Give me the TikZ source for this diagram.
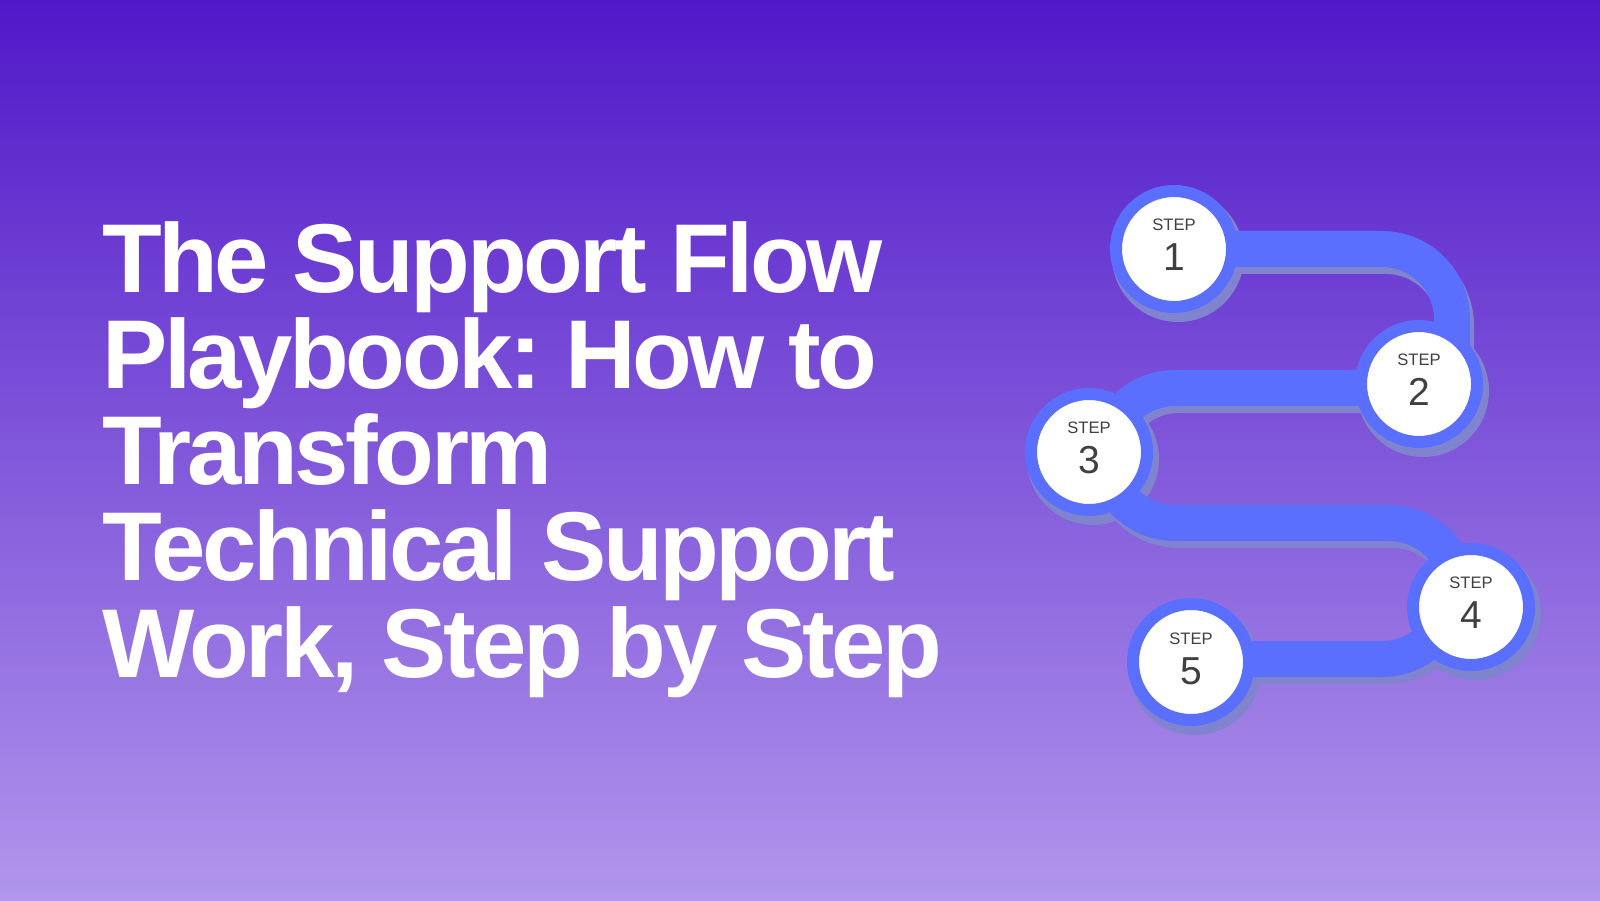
\documentclass[tikz,border=0pt]{standalone}
\usepackage{fontspec}
\setmainfont{Liberation Sans}
\newfontfamily\headfont[LetterSpace=-3.6]{Liberation Sans}
\frenchspacing

\definecolor{bgtop}{HTML}{5018C8}
\definecolor{bgbottom}{HTML}{B196EC}
\definecolor{bandblue}{HTML}{5B6FFF}
\definecolor{bandshadow}{HTML}{8084CE}
\definecolor{steptext}{HTML}{404040}

\tikzset{
  band/.style={draw=bandblue, line width=18pt, rounded corners=35pt},
  stepdot/.style={circle, draw=bandblue, line width=6pt, fill=white, minimum size=58pt, inner sep=0pt},
  steptag/.style={anchor=base, inner sep=0pt, text=steptext, font=\fontsize{8.3}{10}\selectfont},
  stepnum/.style={anchor=base, inner sep=0pt, text=steptext, font=\fontsize{19.5}{22}\selectfont},
  headline/.style={anchor=base west, inner sep=0pt, text=white, font=\fontsize{48.9}{50}\selectfont\headfont\bfseries},
}

% the winding road between the five steps
\newcommand{\flowbands}{%
  \draw[band] (c1) -| ([xshift=16.5pt]c2);
  \draw[band] ([yshift=-2pt]c2) -| ([xshift=8pt,yshift=-9pt]c3);
  \draw[band] ([xshift=8pt,yshift=6pt]c3) |- ([xshift=-6pt,yshift=42pt]c4) -- ([xshift=-6pt]c4);
  \draw[band] ([yshift=1.5pt]c5) -| ([xshift=-9.5pt,yshift=13pt]c4);
}

\begin{document}
\begin{tikzpicture}[x=0.5pt,y=0.5pt]
  \useasboundingbox (0,0) rectangle (1600,900);
  \shade[top color=bgtop, bottom color=bgbottom] (0,0) rectangle (1600,900);

  \coordinate (c1) at (1174,651);
  \coordinate (c2) at (1419,516);
  \coordinate (c3) at (1089,448);
  \coordinate (c4) at (1471,293);
  \coordinate (c5) at (1191,238);

  % drop shadow
  \begin{scope}[transform canvas={shift={(2pt,-3.5pt)}}, band/.append style={draw=bandshadow}]
    \flowbands
    \foreach \n in {1,...,5}
      \fill[bandshadow] (c\n) circle (33pt);
  \end{scope}

  \flowbands
  \foreach \n in {1,...,5} {
    \node[stepdot] (s\n) at (c\n) {};
    \node[steptag] (tag\n) at ([yshift=9pt]s\n.center) {STEP};
    \node[stepnum] (num\n) at ([yshift=-11pt]s\n.center) {\n};
  }

  % title
  \node[headline] (line1) at (102,607) {The Support Flow};
  \node[headline] (line2) at (102,511) {Playbook: How to};
  \node[headline] (line3) at (102,415) {Transform};
  \node[headline] (line4) at (102,319) {Technical Support};
  \node[headline] (line5) at (102,223) {Work, Step by Step};
\end{tikzpicture}
\end{document}
